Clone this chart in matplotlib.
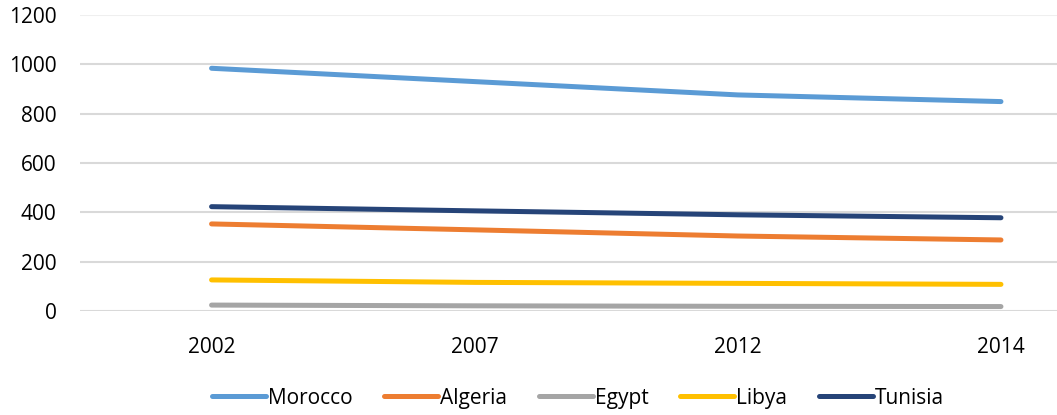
import matplotlib.pyplot as plt
import numpy as np

### data
years = ['2002', '2007', '2012', '2014']
morocco = [984, 930, 876, 849]
algeria = [353, 329, 304, 288]
egypt = [24, 21, 19, 18]
libya = [126, 116, 112, 108]
tunisia = [423, 406, 390, 378]

series = [('Morocco', morocco, '#5B9BD5'),
          ('Algeria', algeria, '#ED7D31'),
          ('Egypt', egypt, '#A5A5A5'),
          ('Libya', libya, '#FFC000'),
          ('Tunisia', tunisia, '#264478')]

plt.rcParams['font.family'] = ['Open Sans', 'DejaVu Sans']

fig = plt.figure(figsize=(10.57, 4.15), dpi=100)
ax = fig.add_axes([80 / 1057, 1 - 311 / 415, 1 - 80 / 1057, 296 / 415])

x = np.arange(len(years))
for name, vals, col in series:
    ax.plot(x, vals, color=col, lw=3.6, solid_capstyle='round', label=name)

ax.set_xlim(-0.5, 3.213)
ax.set_ylim(0, 1200)
ax.set_yticks(np.arange(0, 1201, 200))
ax.set_xticks(x)
ax.set_xticklabels(years)
ax.tick_params(length=0, labelsize=15, colors='#000000')
ax.tick_params(axis='x', pad=19)
ax.tick_params(axis='y', pad=17)
ax.grid(axis='y', color='#D9D9D9', lw=1.5)
ax.set_axisbelow(True)
# top gridline is fainter in the original
ax.get_ygridlines()[-1].set_color('#EFEFEF')
for s in ax.spines.values():
    s.set_visible(False)

leg = fig.legend(loc='center', bbox_to_anchor=(578 / 1057, 1 - 398 / 415), ncol=5,
                 frameon=False, fontsize=15, handlelength=2.6, handletextpad=0.1,
                 columnspacing=1.5)

fig.savefig('out.png', dpi=100)
